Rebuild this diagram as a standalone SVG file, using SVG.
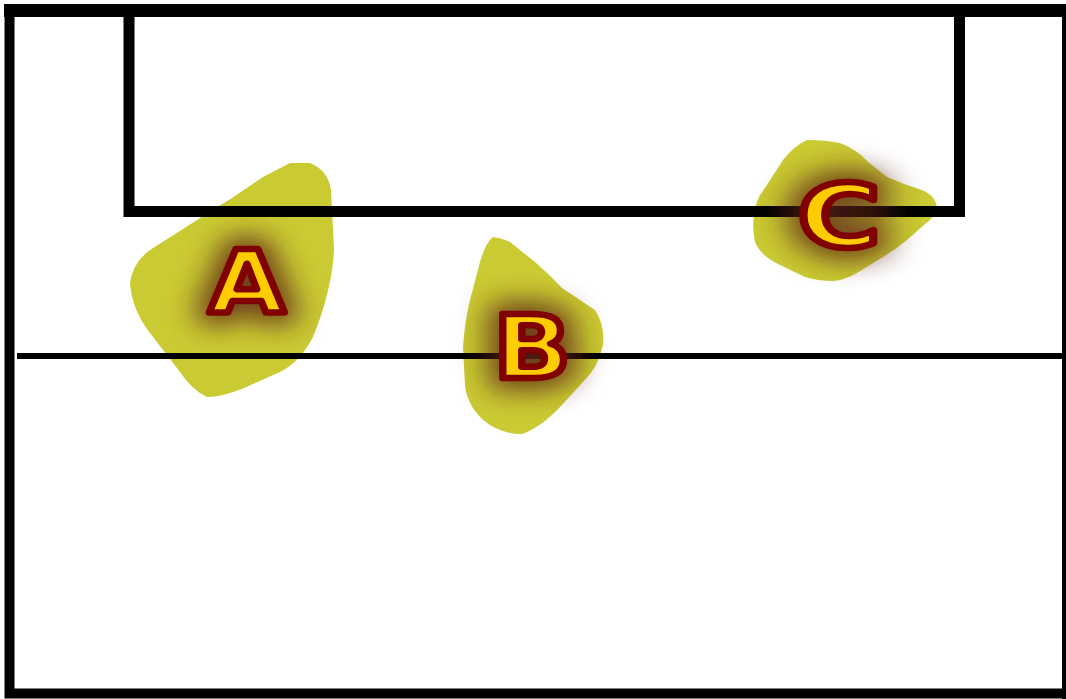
<svg xmlns="http://www.w3.org/2000/svg" width="1066" height="699" viewBox="0 0 1066 699">
  <defs>
    <style>
      .zone { fill: #cacb33; stroke: none; }
      .line { fill: none; stroke: #000; stroke-linecap: butt; }
      .lbl { font-family: "DejaVu Sans", "Liberation Sans", sans-serif; font-weight: bold; font-size: 88px; text-anchor: middle; }
      .lbl-glow { fill: #5a2418; stroke: #5a2418; stroke-width: 26; stroke-linejoin: round; filter: url(#glow); opacity: 0.8; }
      .lbl-main { fill: #ffcc00; stroke: #800000; stroke-width: 6.5; stroke-linejoin: round; }
    </style>
    <filter id="glow" x="-80%" y="-80%" width="260%" height="260%">
      <feGaussianBlur stdDeviation="13"/>
    </filter>
  </defs>

  <rect width="1066" height="699" fill="#fff"/>

  <!-- player zones -->
  <g id="zone-a">
    <path class="zone" d="M290,163 L310,163 Q328,170 331,190 L334,250 Q332,290 313,337 Q300,362 280,372 L253,384 Q225,397 207,397 Q192,390 180,372 L150,333 Q132,310 130,283 Q133,262 150,250 L197,220 Q215,208 232,198 L263,177 Z"/>
  </g>
  <g id="zone-b">
    <path class="zone" d="M493,237 Q502,238 510,242 L535,262 Q550,275 562,288 L595,310 Q605,325 603,345 Q598,368 583,382 L560,407 Q540,428 522,434 Q500,434 483,420 Q467,405 465,385 L463,347 Q465,320 470,300 L480,262 Q486,242 493,237 Z"/>
  </g>
  <g id="zone-c">
    <path class="zone" d="M807,140 Q825,140 840,143 Q858,150 868,162 L887,177 Q905,185 922,190 Q936,196 937,208 Q934,218 925,224 L907,240 Q895,250 883,257 L857,273 Q845,280 833,281 Q818,281 805,277 L778,264 Q760,255 755,242 Q752,228 754,215 Q756,198 765,188 L783,160 Q795,145 807,140 Z"/>
  </g>

  <!-- court markings -->
  <g id="court">
    <path class="line" stroke-width="10" d="M9.5,10 V693.5 H1067"/>
    <path class="line" stroke-width="6" d="M1065,10 V699"/>
    <path class="line" stroke-width="13" d="M4,10.5 H1066"/>
    <path class="line" stroke-width="11" d="M129,10 V211.5 H959.5 V10"/>
    <path class="line" stroke-width="6" d="M17,356 H1066"/>
  </g>

  <!-- zone labels -->
  <g id="label-a" transform="translate(247,313) scale(1.12,1)">
    <text class="lbl lbl-glow" x="0" y="0">A</text>
    <text class="lbl lbl-main" x="0" y="0">A</text>
  </g>
  <g id="label-b" transform="translate(532,378) scale(1.15,1)">
    <text class="lbl lbl-glow" x="0" y="0">B</text>
    <text class="lbl lbl-main" x="0" y="0">B</text>
  </g>
  <g id="label-c" transform="translate(839,247) scale(1.28,1)">
    <text class="lbl lbl-glow" x="0" y="0">C</text>
    <text class="lbl lbl-main" x="0" y="0">C</text>
  </g>
</svg>
